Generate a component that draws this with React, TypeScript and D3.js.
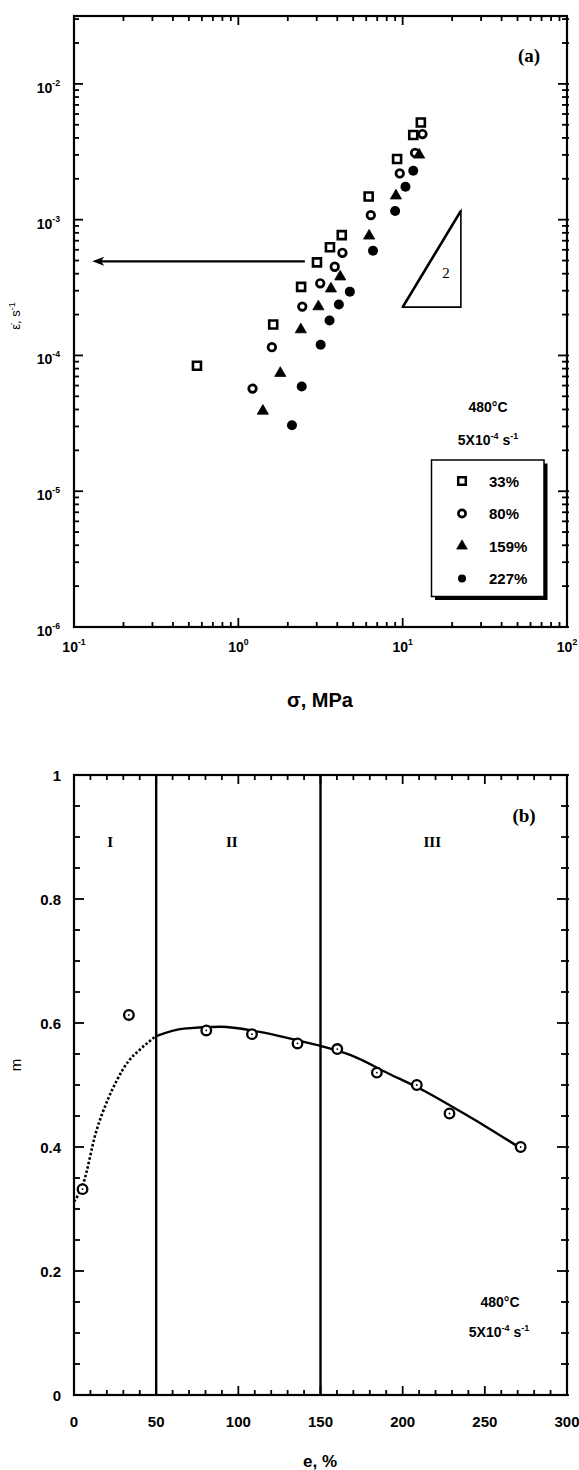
import React from 'react';
import * as d3 from 'd3';

// panel (a): strain rate vs flow stress, one series per strain level
const stress33 = [0.56, 1.63, 2.41, 3.01, 3.61, 4.26, 6.21, 9.25, 11.6, 12.9];
const rate33 = [8.4e-5, 1.69e-4, 3.2e-4, 4.85e-4, 6.26e-4, 7.7e-4, 1.48e-3, 2.8e-3, 4.2e-3, 5.2e-3];
const stress80 = [1.22, 1.6, 2.45, 3.15, 3.86, 4.3, 6.4, 9.6, 11.9, 13.2];
const rate80 = [5.7e-5, 1.15e-4, 2.29e-4, 3.4e-4, 4.5e-4, 5.7e-4, 1.08e-3, 2.19e-3, 3.1e-3, 4.27e-3];
const stress159 = [1.41, 1.8, 2.4, 3.07, 3.66, 4.17, 6.25, 9.1, 12.6];
const rate159 = [3.9e-5, 7.4e-5, 1.55e-4, 2.29e-4, 3.1e-4, 3.8e-4, 7.6e-4, 1.5e-3, 3.0e-3];
const stress227 = [2.12, 2.43, 3.17, 3.59, 4.09, 4.77, 6.6, 9.0, 10.4, 11.6];
const rate227 = [3.06e-5, 5.9e-5, 1.2e-4, 1.81e-4, 2.37e-4, 2.95e-4, 5.9e-4, 1.16e-3, 1.75e-3, 2.29e-3];
const legendLabels = ['33%', '80%', '159%', '227%'];

// arrow and slope triangle (data coords)
const arrowStress = [2.54, 0.129];
const arrowRate = 4.93e-4;
const slopeStress = [10, 22.6];
const slopeRate = [2.27e-4, 1.16e-3];

// panel (b): m vs elongation
const elong = [5.2, 33.4, 80.5, 108.3, 136, 160.2, 184.3, 208.6, 228.5, 271.8];
const mVal = [0.332, 0.613, 0.588, 0.582, 0.567, 0.558, 0.52, 0.5, 0.454, 0.4];
const fitE = [0, 5.4, 13.5, 20.5, 26.2, 33, 39.7, 49.9, 66.8, 89.4, 112, 134.5, 151.5, 168.4, 191, 213.5, 236, 250, 270];
const fitM = [0.312, 0.339, 0.425, 0.476, 0.508, 0.538, 0.556, 0.579, 0.591, 0.594, 0.586, 0.573, 0.562, 0.548, 0.519, 0.49, 0.456, 0.434, 0.401];
const regionLines = [50, 150];
const regionNames = ['I', 'II', 'III'];
const regionCenters = [22, 96, 218];

const sans = '"Liberation Sans", Arial, sans-serif';
const serif = '"Liberation Serif", "Times New Roman", serif';

function Pow({x, y, exp, anchor, size}: any) {
    return (
        <text x={x} y={y} textAnchor={anchor} fontFamily={sans} fontWeight="bold" fontSize={size}>
            10<tspan dy={-7} fontSize={size * 0.62}>{exp}</tspan>
        </text>
    );
}

export default function App() {
    // ----- panel (a)
    const aL = 74, aR = 567, aT = 16, aB = 627;
    const xA = d3.scaleLog().domain([0.1, 100]).range([aL, aR]);
    const yA = d3.scaleLog().domain([1e-6, Math.pow(10, -1.5)]).range([aB, aT]);
    const isMajor = (v: number) => Math.abs(Math.log10(v) - Math.round(Math.log10(v))) < 1e-6;

    const xTicksA = xA.ticks();
    const yTicksA = yA.ticks();

    const sym = (type: any, size: number) => d3.symbol().type(type).size(size)() as string;
    const square = sym(d3.symbolSquare, 64);
    const triangle = sym(d3.symbolTriangle, 54);

    const series = [
        {xs: stress33, ys: rate33, kind: 'sq'},
        {xs: stress80, ys: rate80, kind: 'oc'},
        {xs: stress159, ys: rate159, kind: 'tri'},
        {xs: stress227, ys: rate227, kind: 'dot'}
    ];

    const mark = (kind: string, x: number, y: number, k: any, scale = 1) => {
        const t = `translate(${x},${y}) scale(${scale})`;
        if (kind === 'sq') return <path key={k} d={square} transform={t} fill="#fff" stroke="#000" strokeWidth={2.6}/>;
        if (kind === 'oc') return <circle key={k} cx={x} cy={y} r={3.8 * scale} fill="#fff" stroke="#000" strokeWidth={2.7}/>;
        if (kind === 'tri') return <path key={k} d={triangle} transform={t} fill="#000" stroke="#000" strokeWidth={0.8}/>;
        return <circle key={k} cx={x} cy={y} r={5 * scale} fill="#000"/>;
    };

    // ----- panel (b)
    const bL = 74, bR = 567, bT = 775, bB = 1395;
    const xB = d3.scaleLinear().domain([0, 300]).range([bL, bR]);
    const yB = d3.scaleLinear().domain([0, 1]).range([bB, bT]);
    const fit = fitE.map((e, i) => [e, fitM[i]] as [number, number]);
    const line = d3.line<[number, number]>().x(d => xB(d[0])).y(d => yB(d[1])).curve(d3.curveMonotoneX);
    const fitDotted = fit.filter(d => d[0] <= 50);
    const fitSolid = fit.filter(d => d[0] >= 49);

    const xMinorB = d3.range(0, 301, 10);
    const yMinorB = d3.range(0, 1.001, 0.05);

    const ax = 2.2;

    return (
        <svg width={579} height={1470} style={{position: 'absolute', left: 0, top: 0, background: '#fff'}}>
            {/* ================= panel (a) ================= */}
            <rect x={aL} y={aT} width={aR - aL} height={aB - aT} fill="none" stroke="#000" strokeWidth={ax}/>
            {xTicksA.map((v, i) => {
                const len = isMajor(v) ? 9 : 5;
                const x = xA(v);
                return (
                    <g key={'xa' + i}>
                        <line x1={x} x2={x} y1={aB + 1} y2={aB - len} stroke="#000" strokeWidth={1.8}/>
                        <line x1={x} x2={x} y1={aT} y2={aT + len} stroke="#000" strokeWidth={1.8}/>
                    </g>
                );
            })}
            {yTicksA.map((v, i) => {
                const len = isMajor(v) ? 9 : 5;
                const y = yA(v);
                return (
                    <g key={'ya' + i}>
                        <line x1={aL} x2={aL + len} y1={y} y2={y} stroke="#000" strokeWidth={1.8}/>
                        <line x1={aR + 2} x2={aR - len} y1={y} y2={y} stroke="#000" strokeWidth={1.8}/>
                    </g>
                );
            })}
            {xTicksA.filter(isMajor).map((v, i) => (
                <Pow key={'xl' + i} x={xA(v)} y={652} exp={String(Math.round(Math.log10(v)))} anchor="middle" size={14}/>
            ))}
            {yTicksA.filter(isMajor).map((v, i) => (
                <Pow key={'yl' + i} x={60} y={yA(v) + 9} exp={String(Math.round(Math.log10(v)))} anchor="end" size={14}/>
            ))}

            {series.map((s, si) => s.xs.map((x, i) => mark(s.kind, xA(x), yA(s.ys[i]), si + '-' + i)))}

            {/* horizontal arrow */}
            <line x1={xA(arrowStress[0])} x2={xA(arrowStress[1]) + 8} y1={yA(arrowRate)} y2={yA(arrowRate)} stroke="#000" strokeWidth={2.2}/>
            <path d={`M${xA(arrowStress[1])},${yA(arrowRate)} l12,-4.5 l-3,4.5 l3,4.5 Z`} fill="#000"/>

            {/* slope triangle */}
            <path
                d={`M${xA(slopeStress[0])},${yA(slopeRate[0])} L${xA(slopeStress[1])},${yA(slopeRate[0])} L${xA(slopeStress[1])},${yA(slopeRate[1])} Z`}
                fill="none" stroke="#000" strokeWidth={1.6}/>
            <line x1={xA(slopeStress[0])} y1={yA(slopeRate[0])} x2={xA(slopeStress[1])} y2={yA(slopeRate[1])} stroke="#000" strokeWidth={2.6}/>
            <text x={446} y={278} textAnchor="middle" fontFamily={serif} fontSize={15}>2</text>

            <text x={529} y={62} textAnchor="middle" fontFamily={serif} fontWeight="bold" fontSize={19}>(a)</text>

            <text x={488} y={412} textAnchor="middle" fontFamily={sans} fontWeight="bold" fontSize={14}>480°C</text>
            <text x={488} y={445} textAnchor="middle" fontFamily={sans} fontWeight="bold" fontSize={14}>
                5X10<tspan dy={-6} fontSize={9}>-4</tspan><tspan dy={6}> s</tspan><tspan dy={-6} fontSize={9}>-1</tspan>
            </text>

            {/* legend */}
            <rect x={435} y={463.5} width={112.5} height={136.5} fill="#000"/>
            <rect x={431.5} y={460} width={112.5} height={136.5} fill="#fff" stroke="#000" strokeWidth={1.5}/>
            {series.map((s, i) => {
                const y = 481 + i * 32.5;
                return (
                    <g key={'lg' + i}>
                        {mark(s.kind, 462, y, 'lm' + i, s.kind === 'dot' ? 0.8 : 0.95)}
                        <text x={489} y={y + 5.5} fontFamily={sans} fontWeight="bold" fontSize={15}>{legendLabels[i]}</text>
                    </g>
                );
            })}

            <text transform="translate(20,316) rotate(-90)" textAnchor="middle" fontFamily={sans} fontSize={13}>
                ε̇, s<tspan dy={-5} fontSize={9}>-1</tspan>
            </text>
            <text x={320} y={707} textAnchor="middle" fontFamily={sans} fontWeight="bold" fontSize={20}>σ, MPa</text>

            {/* ================= panel (b) ================= */}
            <rect x={bL} y={bT} width={bR - bL} height={bB - bT} fill="none" stroke="#000" strokeWidth={ax}/>
            {xMinorB.map((v, i) => {
                const len = v % 50 === 0 ? 9 : 5;
                const x = xB(v);
                return (
                    <g key={'xb' + i}>
                        <line x1={x} x2={x} y1={bB + 1} y2={bB - len} stroke="#000" strokeWidth={1.8}/>
                        <line x1={x} x2={x} y1={bT} y2={bT + len} stroke="#000" strokeWidth={1.8}/>
                    </g>
                );
            })}
            {yMinorB.map((v, i) => {
                const major = Math.abs(v * 5 - Math.round(v * 5)) < 1e-6;
                const len = major ? 10 : 6;
                const y = yB(v);
                return (
                    <g key={'yb' + i}>
                        <line x1={bL} x2={bL + len} y1={y} y2={y} stroke="#000" strokeWidth={1.8}/>
                        <line x1={bR + 2} x2={bR - len} y1={y} y2={y} stroke="#000" strokeWidth={1.8}/>
                    </g>
                );
            })}
            {xB.ticks(6).map((v, i) => (
                <text key={'xbl' + i} x={xB(v)} y={1427} textAnchor="middle" fontFamily={sans} fontWeight="bold" fontSize={15}>{v}</text>
            ))}
            {yB.ticks(5).map((v, i) => (
                <text key={'ybl' + i} x={61} y={yB(v) + 5.5} textAnchor="end" fontFamily={sans} fontWeight="bold" fontSize={15}>{v}</text>
            ))}

            {regionLines.map((e, i) => (
                <line key={'rl' + i} x1={xB(e)} x2={xB(e)} y1={bT} y2={bB} stroke="#000" strokeWidth={2.4}/>
            ))}
            {regionNames.map((n, i) => (
                <text key={'rn' + i} x={xB(regionCenters[i])} y={847} textAnchor="middle" fontFamily={serif} fontWeight="bold" fontSize={15}>{n}</text>
            ))}
            <text x={524} y={822} textAnchor="middle" fontFamily={serif} fontWeight="bold" fontSize={19}>(b)</text>

            <path d={line(fitDotted) as string} fill="none" stroke="#000" strokeWidth={2.6} strokeDasharray="2.5,2"/>
            <path d={line(fitSolid) as string} fill="none" stroke="#000" strokeWidth={2.4}/>
            {elong.map((e, i) => (
                <g key={'pb' + i}>
                    <circle cx={xB(e)} cy={yB(mVal[i])} r={4.8} fill="#fff" stroke="#000" strokeWidth={2.3}/>
                    <circle cx={xB(e)} cy={yB(mVal[i])} r={0.9} fill="#000"/>
                </g>
            ))}

            <text x={500} y={1307} textAnchor="middle" fontFamily={sans} fontWeight="bold" fontSize={14}>480°C</text>
            <text x={499} y={1337} textAnchor="middle" fontFamily={sans} fontWeight="bold" fontSize={14}>
                5X10<tspan dy={-6} fontSize={9}>-4</tspan><tspan dy={6}> s</tspan><tspan dy={-6} fontSize={9}>-1</tspan>
            </text>

            <text transform="translate(21,1065) rotate(-90)" textAnchor="middle" fontFamily={sans} fontSize={15}>m</text>
            <text x={320} y={1467} textAnchor="middle" fontFamily={sans} fontWeight="bold" fontSize={17}>e, %</text>
        </svg>
    );
}
